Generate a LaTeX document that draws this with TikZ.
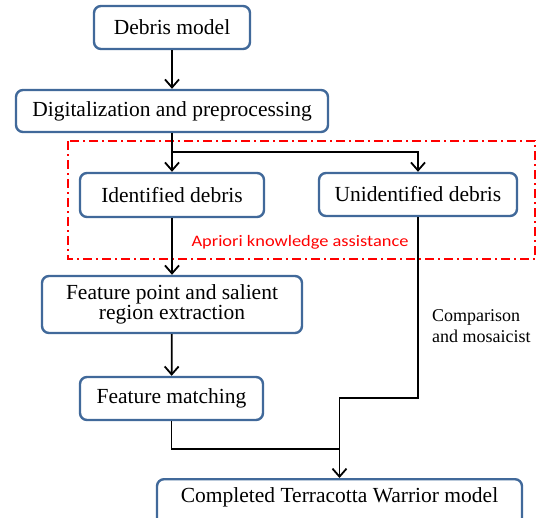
\documentclass[tikz,border=0pt]{standalone}
\usepackage{fontspec}
\setmainfont{Liberation Serif}
\newfontfamily\labelsans{Carlito}
\usetikzlibrary{arrows.meta}
\definecolor{boxblue}{HTML}{41699A}
\tikzset{
  stepbox/.style={draw=boxblue, line width=2.4pt, rounded corners=7pt, fill=white,
    inner sep=0pt, align=center, font=\fontsize{21.5}{19.5}\selectfont},
  flow/.style={line width=1.8pt, draw=black},
  arrowed/.style={flow, -{Straight Barb[length=8pt, width=14pt, line width=1.8pt]}},
  region/.style={draw=red, line width=1.6pt, dash pattern=on 9pt off 4pt on 2pt off 4pt},
}
\begin{document}
\begin{tikzpicture}[x=1pt, y=-1pt]
\useasboundingbox (0,0) rectangle (537,517);
\begin{scope}
\clip (0,0) rectangle (537,517);

% dash-dot frame around the knowledge-assisted stage
\draw[region] (68,141) rectangle (535,259);
\node[text=red, font=\labelsans\fontsize{16}{18}\selectfont] (apriori) at (300,242.5) {\scalebox{1.15}[1]{Apriori knowledge assistance}};

% process boxes
\node[stepbox, minimum width=156pt, minimum height=43pt] (debris) at (172,27.5) {Debris model};
\node[stepbox, minimum width=312pt, minimum height=42pt] (digit) at (172,111) {Digitalization and preprocessing};
\node[stepbox, minimum width=184pt, minimum height=44pt] (ident) at (172,195) {Identified debris};
\node[stepbox, minimum width=198pt, minimum height=43pt] (unident) at (418,194.5) {Unidentified debris};
\node[stepbox, minimum width=260pt, minimum height=57pt] (featpt) at (172,304.5) {Feature point and salient\\region extraction};
\node[stepbox, minimum width=183pt, minimum height=43pt] (match) at (171.5,398.5) {Feature matching};
\node[stepbox, minimum width=365pt, minimum height=50pt, anchor=north] (final) at (339.5,478) {};
\node[font=\fontsize{21.5}{19}\selectfont] (finaltext) at (339.5,497.5) {Completed Terracotta Warrior model};

% helper points for the branching and merging lines
\coordinate (split) at (172,152);
\coordinate (rdown) at (418,398);
\coordinate (rleft) at (339.5,398);
\coordinate (merge) at (339.5,449);

% connectors
\draw[arrowed] (debris) -- (digit);
\draw[arrowed] (digit) -- (ident);
\draw[arrowed] (split) -| (unident.north);
\draw[arrowed] (ident) -- (featpt);
\draw[arrowed] (featpt) -- (match);
\draw[flow] (match.south) |- (merge);
\draw[arrowed] (unident.south) -- (rdown) -- (rleft) -- (final.north);

\node[anchor=west, align=left, font=\fontsize{18}{20.5}\selectfont] (cmp) at (428.5,326) {Comparison\\and mosaicist};
\end{scope}
\end{tikzpicture}
\end{document}
